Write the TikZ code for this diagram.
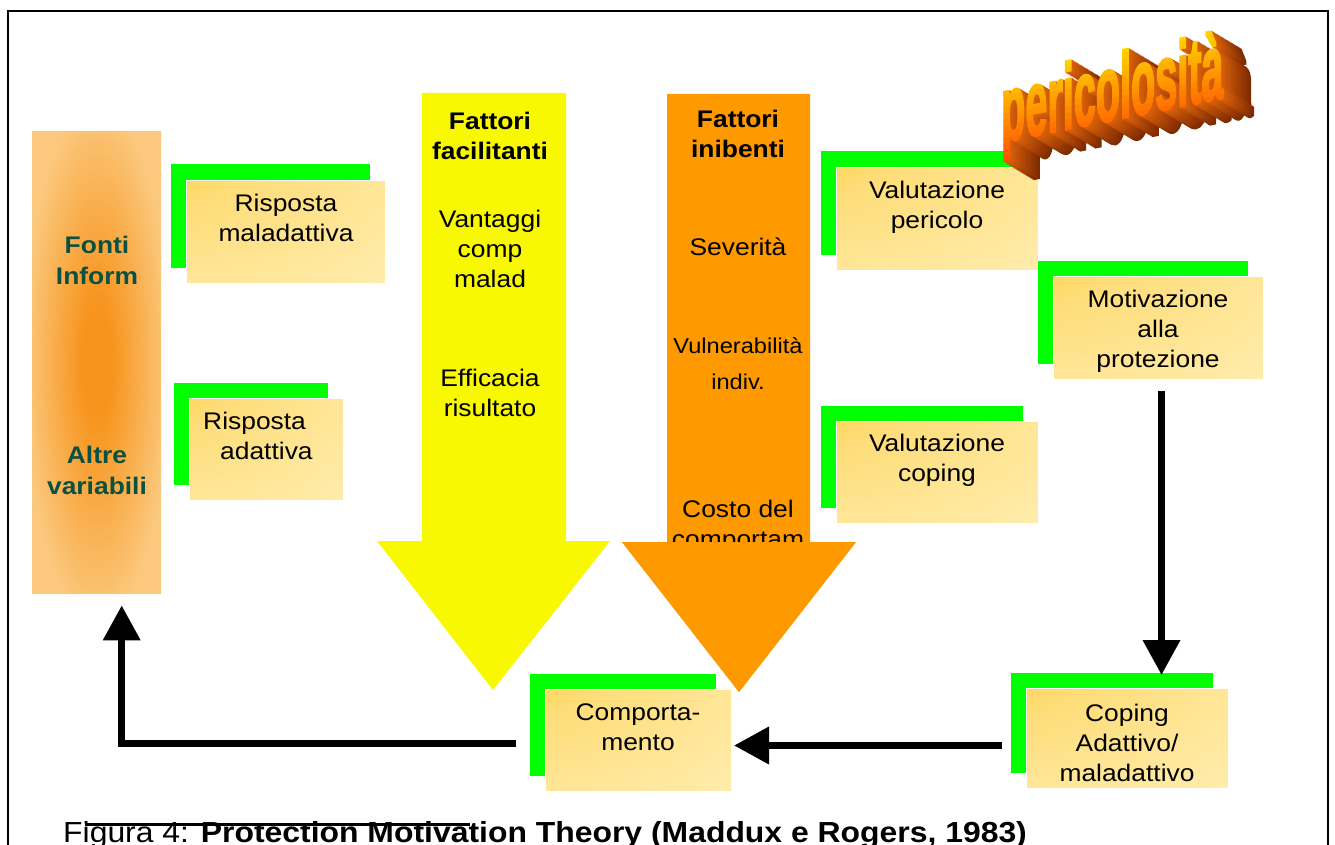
\documentclass[tikz,border=0pt]{standalone}
\usepackage{fontspec}
\setmainfont{Liberation Sans}[FakeStretch=1.1]
\newfontfamily\artfont{Liberation Sans}[FakeBold=3]
\usetikzlibrary{arrows.meta,shadows}
\definecolor{boxgreen}{RGB}{0,255,0}
\definecolor{boxgold}{RGB}{255,198,26}
\definecolor{boxmid}{RGB}{254,221,120}
\definecolor{boxlight}{RGB}{255,235,170}
\definecolor{coldark}{RGB}{247,148,29}
\definecolor{collight}{RGB}{251,200,125}
\definecolor{facyellow}{RGB}{248,248,0}
\definecolor{inhorange}{RGB}{255,153,0}
\definecolor{fontiteal}{RGB}{12,80,64}
\definecolor{extdark}{RGB}{125,42,0}
\definecolor{extlight}{RGB}{215,95,10}
\definecolor{artgold}{RGB}{255,222,0}
\definecolor{artred}{RGB}{255,80,0}
\pgfdeclareradialshading{boxshade}{\pgfpoint{-48bp}{48bp}}{color(0bp)=(boxgold); color(30bp)=(boxmid); color(70bp)=(boxlight); color(160bp)=(boxlight)}
\pgfdeclareradialshading{colshade}{\pgfpoint{0bp}{0bp}}{color(0bp)=(coldark); color(6bp)=(coldark); color(28bp)=(collight); color(50bp)=(collight)}
\tikzset{
  frontbox/.style={shade, shading=boxshade, draw=white, line width=1pt,
    general shadow={fill=boxgreen, shadow xshift=-16pt, shadow yshift=16pt},
    inner sep=0pt, anchor=north west},
  boxtext/.style={font=\fontsize{24}{30}\selectfont, align=center, inner sep=0pt, anchor=north},
  boldtext/.style={font=\bfseries\fontsize{24}{30}\selectfont, align=center, inner sep=0pt, anchor=north},
  fontitext/.style={font=\bfseries\fontsize{24}{31}\selectfont, text=fontiteal, align=center, inner sep=0pt, anchor=north},
  conn/.style={line width=7pt, -{Triangle[length=35pt,width=36pt]}},
  art/.style={font=\artfont\bfseries\fontsize{60}{60}\selectfont, transform shape, anchor=base west, inner sep=0pt}
}
\begin{document}
\begin{tikzpicture}[x=1pt,y=-1pt]
\useasboundingbox (0,0) rectangle (1335,845);
% frame
\draw[line width=2pt] (8,845) |- (1328,11) -- (1328,845);
% left column
\node[shade, shading=colshade, minimum width=129pt, minimum height=462pt, inner sep=0pt, anchor=north west] (FI) at (32,131) {};
\node[fontitext] (FIt1) at (97,236) {Fonti\\Inform};
\node[fontitext] (FIt2) at (97,446) {Altre\\variabili};
% yellow block arrow
\fill[facyellow] (422,93) -- (566,93) -- (566,541) -- (610,541) -- (493,690) -- (377,541) -- (422,541) -- cycle;
\node[boldtext] (FF) at (490,112) {Fattori\\facilitanti};
\node[boxtext] (FF1) at (490,210) {Vantaggi\\comp\\malad};
\node[boxtext] (FF2) at (490,369) {Efficacia\\risultato};
% orange block arrow
\fill[inhorange] (667,94) -- (810,94) -- (810,542) -- (856,542) -- (739,692) -- (622,542) -- (667,542) -- cycle;
\node[boldtext] (FN) at (738,110) {Fattori\\inibenti};
\node[boxtext] (FN1) at (738,238) {Severità};
\node[boxtext, font=\fontsize{21.5}{36}\selectfont] (FN2) at (738,337) {Vulnerabilità\\indiv.};
\node[boxtext] (FN3) at (738,500) {Costo del\\comportam};
\fill[inhorange] (622,542) -- (856,542) -- (739,692) -- cycle;
% boxes
\node[frontbox, minimum width=199pt, minimum height=103pt] (RM) at (186,180) {};
\node[boxtext] (RMt) at (RM.north) [yshift=-14pt] {Risposta\\maladattiva};
\node[frontbox, minimum width=154pt, minimum height=102pt] (RA) at (189,398) {};
\node[boxtext, anchor=north west, align=left] (RAt) at (203,412) {Risposta\\\hspace*{17pt}adattiva};
\node[frontbox, minimum width=202pt, minimum height=103pt] (VP) at (836,167) {};
\node[boxtext] (VPt) at (937,181) {Valutazione\\pericolo};
\node[frontbox, minimum width=210pt, minimum height=103pt] (MP) at (1053,276) {};
\node[boxtext] (MPt) at (1158,290) {Motivazione\\alla\\protezione};
\node[frontbox, minimum width=202pt, minimum height=102pt] (VC) at (836,421) {};
\node[boxtext] (VCt) at (937,434) {Valutazione\\coping};
\node[frontbox, minimum width=186pt, minimum height=102pt] (CM) at (545,689) {};
\node[boxtext] (CMt) at (638,704) {Comporta-\\mento};
\node[frontbox, minimum width=202pt, minimum height=100pt] (CA) at (1026,688) {};
\node[boxtext] (CAt) at (1127,704) {Coping\\Adattivo/\\maladattivo};
% connectors
\draw[conn, shorten <=11pt, shorten >=13pt] ([xshift=3pt]MP.south) -- ([xshift=3pt]MP.south |- CA.north);
\draw[conn, shorten <=24pt, shorten >=2pt] ([yshift=-7pt]CA.west) -- ([yshift=-7pt]CA.west -| CM.east);
\draw[conn, shorten <=29pt, shorten >=12pt] ([yshift=-3pt]CM.west) -| ([xshift=25pt]FI.south);
% word art
\begin{scope}[shift={(1001,142)}, yslant=0.2]
  \foreach \i in {24,...,1} {
    \pgfmathtruncatemacro\pc{100*(\i-1)/23}
    \begin{scope}[shift={(\i*1.25,\i*1.0)}]
      \begin{scope}[xscale=0.66, yscale=1.55]
        \node[art, text=extdark!\pc!extlight] at (0,0) {pericolosità};
      \end{scope}
    \end{scope}
  }
  \begin{scope}[xscale=0.66, yscale=1.55]
    \foreach \k in {0,...,15} {
      \pgfmathsetmacro\ya{-50+\k*4}
      \pgfmathsetmacro\yb{\ya+4.4}
      \pgfmathtruncatemacro\pc{100*\k/15}
      \begin{scope}
        \clip (-5,\ya) rectangle (360,\yb);
        \node[art, text=artred!\pc!artgold] at (0,0) {pericolosità};
      \end{scope}
    }
  \end{scope}
\end{scope}
% caption
\node[anchor=base west, inner sep=0pt, font=\fontsize{29}{30}\selectfont] (cap) at (63,842) {Figura 4: \textbf{Protection Motivation Theory (Maddux e Rogers, 1983)}};
\draw[line width=3pt] (85,824) -- (470,824);
\end{tikzpicture}
\end{document}
